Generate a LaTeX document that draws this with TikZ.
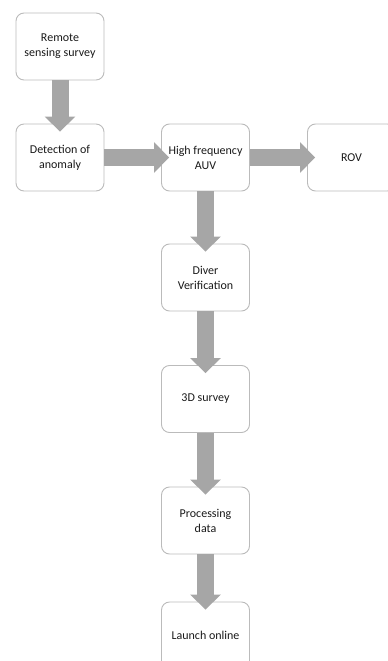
\documentclass[tikz,border=0pt]{standalone}
\usepackage{fontspec}
\setmainfont{Carlito}
\usetikzlibrary{arrows.meta}
\definecolor{boxline}{HTML}{BBBBBB}
\definecolor{arrowgray}{HTML}{A6A6A6}
\definecolor{txt}{HTML}{1A1A1A}
\tikzset{
  stepbox/.style={draw=boxline, line width=0.9pt, rounded corners=8pt, fill=white,
    minimum width=88pt, minimum height=67pt, inner sep=0pt, align=center,
    text=txt, font=\fontsize{12pt}{15pt}\selectfont},
  fatarrow/.style={draw=arrowgray, line width=17pt,
    -{Triangle[width=30pt,length=15pt]}, fill=arrowgray}
}
\begin{document}
\begin{tikzpicture}[x=1pt,y=-1pt]
\useasboundingbox (0,0) rectangle (388,661);
\node[stepbox] (rs) at (60,46.5) {Remote\\sensing survey};
\node[stepbox] (det) at (60,157.5) {Detection of\\anomaly};
\node[stepbox] (auv) at (205.5,157.5) {High frequency\\AUV};
\node[stepbox] (rov) at (351.5,157.5) {ROV};
\node[stepbox] (div) at (205.5,277.5) {Diver\\Verification};
\node[stepbox] (sur) at (205.5,399) {3D survey};
\node[stepbox] (pro) at (205.5,520.5) {Processing\\data};
\node[stepbox] (lau) at (205.5,635.5) {Launch online};
\draw[fatarrow] (rs.south) -- ([yshift=-8pt]det.north);
\draw[fatarrow] (det.east) -- ([xshift=8pt]auv.west);
\draw[fatarrow] (auv.east) -- ([xshift=8pt]rov.west);
\draw[fatarrow] (auv.south) -- ([yshift=-8pt]div.north);
\draw[fatarrow] (div.south) -- ([yshift=-8pt]sur.north);
\draw[fatarrow] (sur.south) -- ([yshift=-8pt]pro.north);
\draw[fatarrow] (pro.south) -- ([yshift=-8pt]lau.north);
\end{tikzpicture}
\end{document}
